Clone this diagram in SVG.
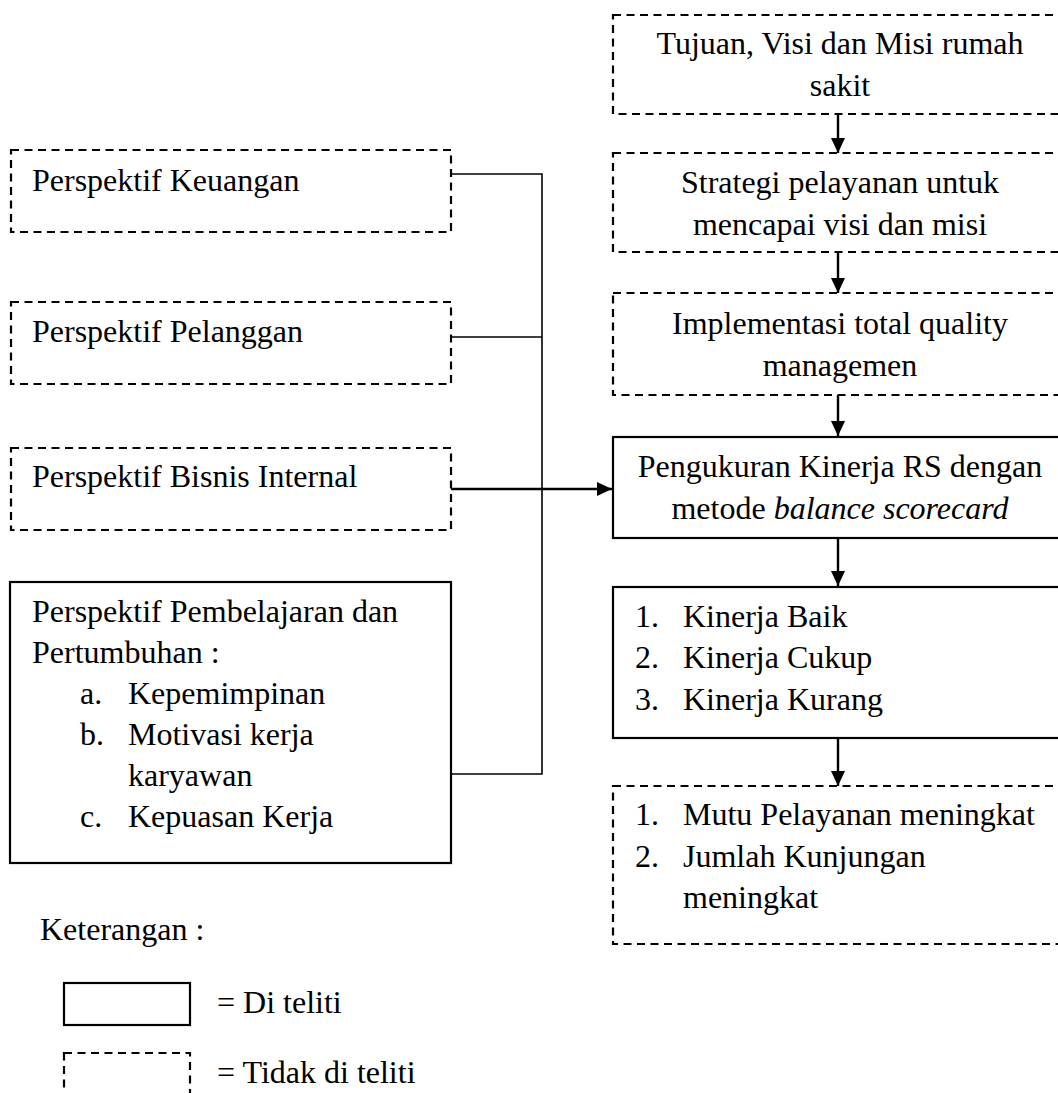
<svg xmlns="http://www.w3.org/2000/svg" width="1058" height="1093" viewBox="0 0 1058 1093">
<style>
text{font-family:"Liberation Serif","Times New Roman",serif;font-size:32px;fill:#000}
.c{text-anchor:middle}
.box{fill:none;stroke:#000;stroke-width:2.2}
.dash{fill:none;stroke:#000;stroke-width:2.2;stroke-dasharray:8 5.5}
.ln{fill:none;stroke:#000;stroke-width:1.6}
.ar{fill:none;stroke:#000;stroke-width:2.4;marker-end:url(#ah)}
</style>
<defs>
<marker id="ah" markerWidth="15" markerHeight="14" refX="15" refY="7" orient="auto" markerUnits="userSpaceOnUse">
<path d="M0,0 L15,7 L0,14 Z" fill="#000"/>
</marker>
</defs>
<rect width="1058" height="1093" fill="#fff"/>

<g id="connectors">
<polyline class="ln" points="451,174 542,174 542,774 451,774"/>
<line class="ln" x1="451" y1="337" x2="542" y2="337"/>
<line class="ar" x1="451" y1="489" x2="612" y2="489"/>
<line class="ar" x1="838" y1="114" x2="838" y2="153"/>
<line class="ar" x1="838" y1="252" x2="838" y2="293"/>
<line class="ar" x1="838" y1="395" x2="838" y2="436"/>
<line class="ar" x1="838" y1="538" x2="838" y2="586"/>
<line class="ar" x1="838" y1="738" x2="838" y2="786"/>
</g>

<g id="tujuan">
<rect class="dash" x="613" y="15" width="450" height="99"/>
<text class="c" x="840" y="54">Tujuan, Visi dan Misi rumah</text>
<text class="c" x="840" y="96">sakit</text>
</g>
<g id="strategi">
<rect class="dash" x="613" y="153" width="450" height="99"/>
<text class="c" x="840" y="193">Strategi pelayanan untuk</text>
<text class="c" x="840" y="235">mencapai visi dan misi</text>
</g>
<g id="implementasi">
<rect class="dash" x="613" y="293" width="450" height="102"/>
<text class="c" x="840" y="334">Implementasi total quality</text>
<text class="c" x="840" y="376">managemen</text>
</g>
<g id="pengukuran">
<rect class="box" x="613" y="437" width="450" height="101"/>
<text class="c" x="840" y="477">Pengukuran Kinerja RS dengan</text>
<text class="c" x="840" y="519">metode <tspan font-style="italic">balance scorecard</tspan></text>
</g>
<g id="kinerja">
<rect class="box" x="613" y="587" width="450" height="151"/>
<text x="635" y="627">1.</text><text x="683" y="627">Kinerja Baik</text>
<text x="635" y="668">2.</text><text x="683" y="668">Kinerja Cukup</text>
<text x="635" y="710">3.</text><text x="683" y="710">Kinerja Kurang</text>
</g>
<g id="mutu">
<rect class="dash" x="613" y="786" width="450" height="158"/>
<text x="635" y="825">1.</text><text x="683" y="825">Mutu Pelayanan meningkat</text>
<text x="635" y="867">2.</text><text x="683" y="867">Jumlah Kunjungan</text>
<text x="683" y="908">meningkat</text>
</g>

<g id="keuangan">
<rect class="dash" x="11" y="150" width="440" height="82"/>
<text x="32" y="191">Perspektif Keuangan</text>
</g>
<g id="pelanggan">
<rect class="dash" x="11" y="302" width="440" height="82"/>
<text x="32" y="342">Perspektif Pelanggan</text>
</g>
<g id="bisnis">
<rect class="dash" x="11" y="448" width="440" height="82"/>
<text x="32" y="487">Perspektif Bisnis Internal</text>
</g>
<g id="pembelajaran">
<rect class="box" x="10" y="582" width="441" height="281"/>
<text x="32" y="622">Perspektif Pembelajaran dan</text>
<text x="32" y="663">Pertumbuhan :</text>
<text x="80" y="704">a.</text><text x="128" y="704">Kepemimpinan</text>
<text x="80" y="745">b.</text><text x="128" y="745">Motivasi kerja</text>
<text x="128" y="786">karyawan</text>
<text x="80" y="827">c.</text><text x="128" y="827">Kepuasan Kerja</text>
</g>

<g id="legend">
<text x="40" y="940">Keterangan :</text>
<rect class="box" x="64" y="983" width="126" height="42"/>
<text x="217" y="1013">= Di teliti</text>
<rect class="dash" x="64" y="1053" width="126" height="60"/>
<text x="217" y="1083">= Tidak di teliti</text>
</g>
</svg>
